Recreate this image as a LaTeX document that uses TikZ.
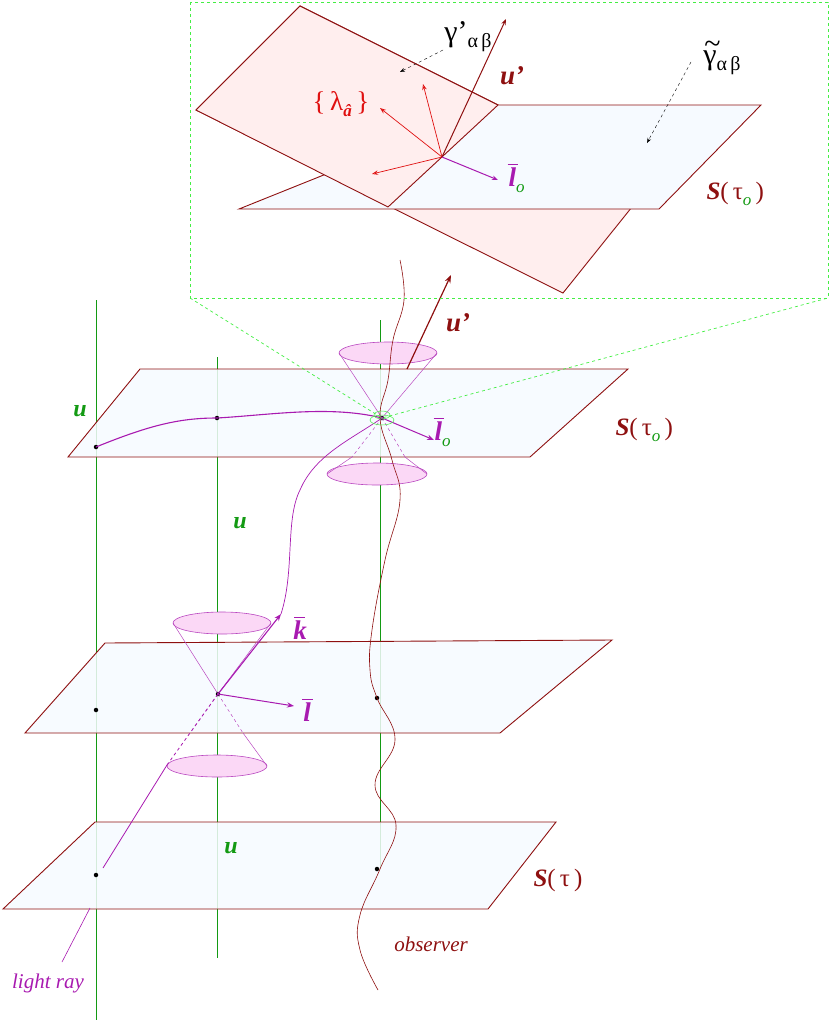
\documentclass[tikz,border=0pt]{standalone}
\usepackage{fontspec}
\setmainfont{Liberation Serif}
\usetikzlibrary{arrows.meta}
\definecolor{dred}{HTML}{8E1010}
\definecolor{pur}{HTML}{A81AB0}
\definecolor{gr}{HTML}{139A13}
\definecolor{lbl}{HTML}{F6FAFF}
\definecolor{pnk}{HTML}{FFEEEE}
\definecolor{cone}{HTML}{FBD8F6}
\definecolor{rd}{HTML}{E01010}
\definecolor{lg}{HTML}{44EE44}
\newcommand{\fs}[1]{\fontsize{#1}{#1}\selectfont}
\newcommand{\barred}[2]{\leavevmode\rlap{\hspace*{#2}\raisebox{0.78em}{\rule{0.38em}{1.3pt}}}#1}
\newcommand{\sub}[1]{\raisebox{-6pt}{\fs{17}#1}}
\begin{document}
\begin{tikzpicture}[x=1pt,y=-1pt,
  plane/.style={draw=dred,fill=lbl,line width=0.9pt},
  gline/.style={draw=gr,line width=0.6pt},
  cn/.style={draw=pur!80,line width=0.5pt},
  cfill/.style={draw=pur!80,fill=cone,line width=0.6pt},
  pvec/.style={draw=pur,line width=1pt,-{Stealth[length=7pt]}},
  rvec/.style={draw=rd,line width=0.7pt,-{Stealth[length=6pt,open]}},
  ulab/.style={text=gr,font=\fs{24}\bfseries\itshape},
  vlab/.style={text=pur,font=\fs{27}\bfseries\itshape},
  slab/.style={text=dred,font=\fs{25},anchor=west},
  dot/.style={circle,fill=black,inner sep=0pt,minimum size=4.5pt}]
\useasboundingbox (0,0) rectangle (830,1020);
% vertical green lines
\draw[gline] (96,300) -- (96,1020);
\draw[gline] (217,357) -- (217,958);
\draw[gline] (380,320) -- (380,868);
% planes
\draw[plane,fill opacity=0.85] (95,822) -- (556,822) -- (488,909) -- (3,909) -- cycle;
\draw[plane,fill opacity=0.85] (105,643) -- (612,640) -- (500,733) -- (25,733) -- cycle;
\draw[plane,fill opacity=0.85] (140,369) -- (628,369) -- (530,457) -- (68,457) -- cycle;
% points
\node[dot] (p1) at (96,447) {}; \node[dot] (p2) at (217,418) {}; \node[dot] (p3) at (382,418) {};
\node[dot] (m1) at (96,710) {}; \node[dot] (m2) at (218,694) {}; \node[dot] (m3) at (377,698) {};
\node[dot] (b1) at (96,875) {}; \node[dot] (b3) at (377,869) {};
% curve on top plane
\draw[pur,line width=1.1pt] (p1.center) .. controls (150,425) and (180,418) .. (p2.center) .. controls (270,415) and (330,405) .. (p3.center);
% cones top
\draw[cfill] (388,353) ellipse (49 and 11);
\draw[cn] (p3.center) -- (339,353) (p3.center) -- (437,353);
\draw[cfill] (377,474) ellipse (50 and 11);
\draw[cn,dashed] (p3.center) -- (352,457) (p3.center) -- (405,457);
\draw[cn] (352,457) -- (327,474) (405,457) -- (427,474);
% cones middle
\draw[cfill] (222,623) ellipse (49 and 11);
\draw[cn] (m2.center) -- (173,623) (m2.center) -- (271,623);
\draw[cfill] (217,766) ellipse (50 and 11);
\draw[cn,dashed] (m2.center) -- (190,733) (m2.center) -- (243,733);
\draw[cn] (243,733) -- (267,766);
% observer
\draw[dred,line width=0.6pt] plot[smooth,tension=0.7] coordinates {(400,260) (404,300) (393,340) (388,380) (380,418) (392,460) (400,500) (385,560) (372,630) (370,670) (377,698) (395,740) (375,785) (396,825) (380,869) (360,915) (360,950) (378,990)};
\node[dred,font=\fs{21}\itshape] (obs) at (431,944) {observer};
% u' main
\draw[dred,line width=1.2pt,-{Stealth[length=8pt]}] (407,369) -- (451,275);
\node[dred,font=\fs{27}\bfseries\itshape] (up) at (458,323) {u'};
% light ray
\draw[pur,line width=0.8pt] (103,868) -- (167,765);
\draw[pur,line width=0.8pt,dashed] (167,765) -- (m2.center);
\draw[pur,line width=1.1pt,-{Stealth[length=7pt]}] (m2.center) -- (281,614);
\draw[pur,line width=0.7pt] (281,614) .. controls (295,570) and (285,520) .. (300,490) .. controls (315,455) and (350,440) .. (p3.center);
\node[pur,font=\fs{21}\itshape] (lr) at (48,983) {light ray};
\draw[pur,line width=0.6pt] (62,962) -- (90,908);
\draw[pvec] (m2.center) -- (294,706);
\draw[pvec] (p3.center) -- (434,440);
\node[vlab] (kk) at (300,628) {\barred{k}{1pt}};
\node[vlab] (ll) at (307,710) {\barred{l}{-1pt}};
\node[vlab,anchor=west] (lo) at (431,432) {\barred{l}{-1pt}\sub{\textcolor{gr}{\mdseries o}}};
% u labels
\node[ulab] (u1) at (80,411) {u};
\node[ulab] (u2) at (240,523) {u};
\node[ulab] (u3) at (231,848) {u};
% S labels
\node[slab] (s1) at (612,430) {\textbf{\textit{S}}(\,τ\sub{\textcolor{gr}{\itshape o}}\,)};
\node[slab] (s2) at (530,880) {\textbf{\textit{S}}(\,τ\,)};
% inset frame
\draw[lg,dashed,line width=0.7pt] (190,2) rectangle (828,298);
\draw[lg,dashed,line width=0.7pt] (190,298) -- (p3.center) -- (828,298);
\draw[lg,line width=0.5pt] (382,420) ellipse (12 and 5);
\draw[lg,line width=0.5pt] (382,415) ellipse (8 and 4);
% inset planes
\draw[draw=dred,fill=pnk,line width=0.9pt] (196,110) -- (300,6) -- (652,182) -- (563,293) -- cycle;
\draw[plane] (239,209) -- (659,209) -- (761,105) -- (498,105) -- cycle;
\fill[pnk] (196,110) -- (300,6) -- (498,105) -- (388,207) -- cycle;
\draw[dred,line width=0.9pt] (196,110) -- (300,6) -- (498,105) (196,110) -- (388,207) (498,105) -- (388,207);
\coordinate (O) at (442,157);
\draw[rvec] (O) -- (423,84);
\draw[rvec] (O) -- (380,108);
\draw[rvec] (O) -- (372,174);
\draw[dred,line width=1pt,-{Stealth[length=6pt,open]}] (O) -- (506,19);
\draw[pur,line width=1pt,-{Stealth[length=6pt]}] (O) -- (498,180);
\node[dred,font=\fs{27}\bfseries\itshape] (up2) at (512,76) {u'};
\node[text=rd,font=\fs{27}] (lam) at (341,104) {\{\,λ\sub{\bfseries\itshape â}\,\}};
\node[vlab,anchor=west] (lo2) at (505,178) {\barred{l}{-1pt}\sub{\textcolor{gr}{\mdseries o}}};
\node[slab] (s3) at (703,194) {\textbf{\textit{S}}(\,τ\sub{\textcolor{gr}{\itshape o}}\,)};
\node[font=\fs{30}] (g1) at (468,37) {γ'\sub{\fs{20}α\,β}};
\node[font=\fs{30}] (g2) at (722,58) {\leavevmode\rlap{\hspace*{1pt}\raisebox{0.35em}{\~{}}}γ\sub{\fs{20}α\,β}};
\draw[dashed,-{Stealth[length=5pt]}] (443,50) -- (400,72);
\draw[dashed,-{Stealth[length=5pt]}] (691,62) -- (647,143);
\end{tikzpicture}
\end{document}
